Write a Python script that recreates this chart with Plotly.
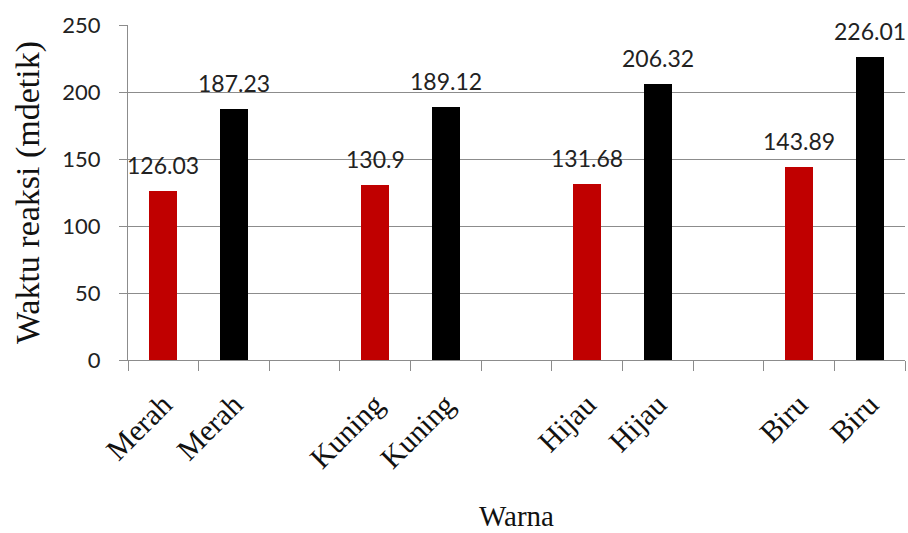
import plotly.graph_objects as go

# ---- data ----
categories = ["Merah", "Kuning", "Hijau", "Biru"]
series_red = [126.03, 130.9, 131.68, 143.89]
series_black = [187.23, 189.12, 206.32, 226.01]
y_ticks = [0, 50, 100, 150, 200, 250]
x_title = "Warna"
y_title = "Waktu reaksi (mdetik)"

# slot layout: red, black, blank per group (last group without blank)
red_x = [3 * i for i in range(len(categories))]
black_x = [3 * i + 1 for i in range(len(categories))]
n_slots = 3 * len(categories) - 1

label_pos = []
label_text = []
for i, c in enumerate(categories):
    label_pos += [red_x[i], black_x[i]]
    label_text += [c, c]

SERIF = "Liberation Serif"

fig = go.Figure()
fig.add_trace(go.Bar(x=red_x, y=series_red, width=0.4,
                     marker=dict(color="#C00000", line=dict(width=0)), showlegend=False))
fig.add_trace(go.Bar(x=black_x, y=series_black, width=0.4,
                     marker=dict(color="#000000", line=dict(width=0)), showlegend=False))

label_font = dict(family="Lato", size=23, color="#222222")
for xs, ys in ((red_x, series_red), (black_x, series_black)):
    for x, v in zip(xs, ys):
        fig.add_annotation(x=x, y=v, text=str(v), showarrow=False,
                           xref="x", yref="y", yanchor="middle", yshift=26,
                           font=label_font)

fig.add_annotation(text=x_title, xref="paper", yref="paper", x=0.5, y=-0.466,
                   showarrow=False, xanchor="center", yanchor="middle",
                   font=dict(family=SERIF, size=29, color="#111111"))

fig.update_layout(
    width=908, height=533,
    margin=dict(l=128, r=3, t=25, b=173),
    plot_bgcolor="white", paper_bgcolor="white",
    barmode="overlay",
    bargap=0,
    xaxis=dict(
        range=[-0.5, n_slots - 0.5],
        tickmode="array", tickvals=label_pos, ticktext=label_text,
        tickangle=-45, ticks="", showgrid=False, zeroline=False,
        showline=True, linecolor="#8c8c8c", linewidth=1,
        tickfont=dict(family=SERIF, size=30, color="#111111"),
        ticklabelstandoff=14,
        minor=dict(tickmode="array",
                   tickvals=[b - 0.5 for b in range(n_slots + 1)],
                   ticks="outside", ticklen=10, tickcolor="#8c8c8c", showgrid=False),
    ),
    yaxis=dict(
        range=[0, 250], tickmode="array", tickvals=y_ticks,
        ticks="outside", ticklen=8, tickcolor="#8c8c8c",
        showgrid=False, zeroline=False,
        showline=True, linecolor="#8c8c8c", linewidth=1,
        tickfont=dict(family="Lato", size=22, color="#222222"),
        ticklabelstandoff=14,
        title=dict(text=y_title, font=dict(family=SERIF, size=34, color="#111111"),
                   standoff=12),
        minor=dict(tickmode="array", tickvals=y_ticks[1:-1], ticks="",
                   showgrid=True, gridcolor="#8c8c8c", gridwidth=1),
    ),
)

fig.write_html("out.html")
